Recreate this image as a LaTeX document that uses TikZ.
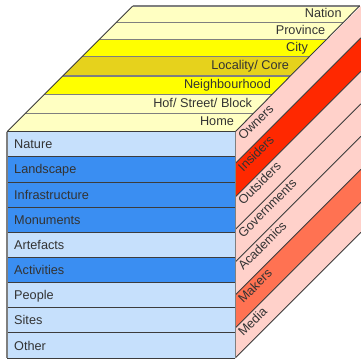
\documentclass[tikz,border=0pt]{standalone}
\usepackage{fontspec}
\setmainfont{Liberation Sans}
\definecolor{paleY}{HTML}{FFFFC2}
\definecolor{brightY}{HTML}{FFFF00}
\definecolor{mustY}{HTML}{E6D21C}
\definecolor{paleB}{HTML}{C6E0FC}
\definecolor{darkB}{HTML}{3A8EF2}
\definecolor{pinkR}{HTML}{FFD1CA}
\definecolor{redR}{HTML}{FF2800}
\definecolor{salR}{HTML}{FF7252}
\definecolor{txt}{HTML}{333333}
\definecolor{topline}{HTML}{7F7F7F}
\definecolor{edgec}{HTML}{3C3C3C}
\begin{document}
\begin{tikzpicture}[x=1pt,y=-1pt,
  lbl/.style={text=txt, font=\fontsize{12.7}{15}\selectfont, inner sep=0pt},
  topsep/.style={draw=topline, line width=1.1pt},
  frontsep/.style={draw=edgec, line width=0.9pt},
  sidesep/.style={draw=edgec, line width=0.8pt}]
\useasboundingbox (0,0) rectangle (360,361);
\fill[white] (0,0) rectangle (360,361);
% ---------- top face ----------
\foreach \ya/\yb/\c/\t/\nm in {6/22.7/paleY/{Nation}/nat,
  22.7/39.3/paleY/{Province}/prov,
  39.3/56.7/brightY/{City}/city,
  56.7/76/mustY/{Locality/ Core}/loc,
  76/94.3/brightY/{Neighbourhood}/nbh,
  94.3/113.3/paleY/{Hof/ Street/ Block}/hof,
  113.3/131.7/paleY/{Home}/home} {
  \fill[\c] (138.7-\ya,\ya) -- ({235.3+(131.7-\ya)*0.988},\ya)
     -- ({235.3+(131.7-\yb)*0.988},\yb) -- (138.7-\yb,\yb) -- cycle;
  \node[lbl, anchor=base east] (\nm) at ({235.3+(131.7-\yb)*0.988-1.2},{(\ya+\yb)/2+3.3}) {\t};
}
\foreach \y in {22.7,39.3,56.7,76,94.3,113.3} {
  \draw[topsep] (138.7-\y,\y) -- ({235.3+(131.7-\y)*0.988},\y);
}
\draw[draw=topline, line width=1.4pt] (132.7,6) -- (359.5,6);
\draw[draw=edgec, line width=0.8pt] (7,131.7) -- (132.7,6);
% ---------- right face ----------
\foreach \ya/\yb/\c/\t/\nm in {131.7/163.5/pinkR/Owners/own,
  163.5/197/redR/Insiders/ins,
  197/229.5/pinkR/Outsiders/outs,
  229.5/262/pinkR/Governments/gov,
  262/295/pinkR/Academics/acad,
  295/328/salR/Makers/mak,
  328/358/pinkR/Media/med} {
  \fill[\c] (235.3,\ya) -- (361,{\ya-125.7}) -- (361,{\yb-125.7}) -- (235.3,\yb) -- cycle;
  \node[lbl, rotate=45, anchor=base west] (\nm) at (243.3,{\ya+9}) {\t};
}
\foreach \y in {163.5,197,229.5,262,295,328,358} {
  \draw[sidesep] (235.3,\y) -- (361,{\y-125.7});
}
\draw[draw=edgec, line width=0.9pt] (235.3,131.7) -- (359.5,6);
% ---------- front face ----------
\foreach \i/\c/\t/\nm in {0/paleB/Nature/nat2,
  1/darkB/Landscape/land,
  2/darkB/Infrastructure/infra,
  3/darkB/Monuments/mon,
  4/paleB/Artefacts/art,
  5/darkB/Activities/act,
  6/paleB/People/peo,
  7/paleB/Sites/sit,
  8/paleB/Other/oth} {
  \fill[\c] (7,{131.7+25.15*\i}) rectangle (235.3,{131.7+25.15*(\i+1)});
  \node[lbl, anchor=base west] (\nm) at (14,{131.7+25.15*\i+12.6+4.5}) {\t};
}
\foreach \i in {1,...,8} {
  \draw[frontsep] (7,{131.7+25.15*\i}) -- (235.3,{131.7+25.15*\i});
}
\draw[draw=topline, line width=1.1pt] (7,131.7) -- (7,358);
\draw[frontsep] (7,131.7) -- (235.3,131.7);
\draw[frontsep] (7,358) -- (235.3,358);
\draw[draw=topline, line width=1.1pt] (235.3,131.7) -- (235.3,358);
\end{tikzpicture}
\end{document}
